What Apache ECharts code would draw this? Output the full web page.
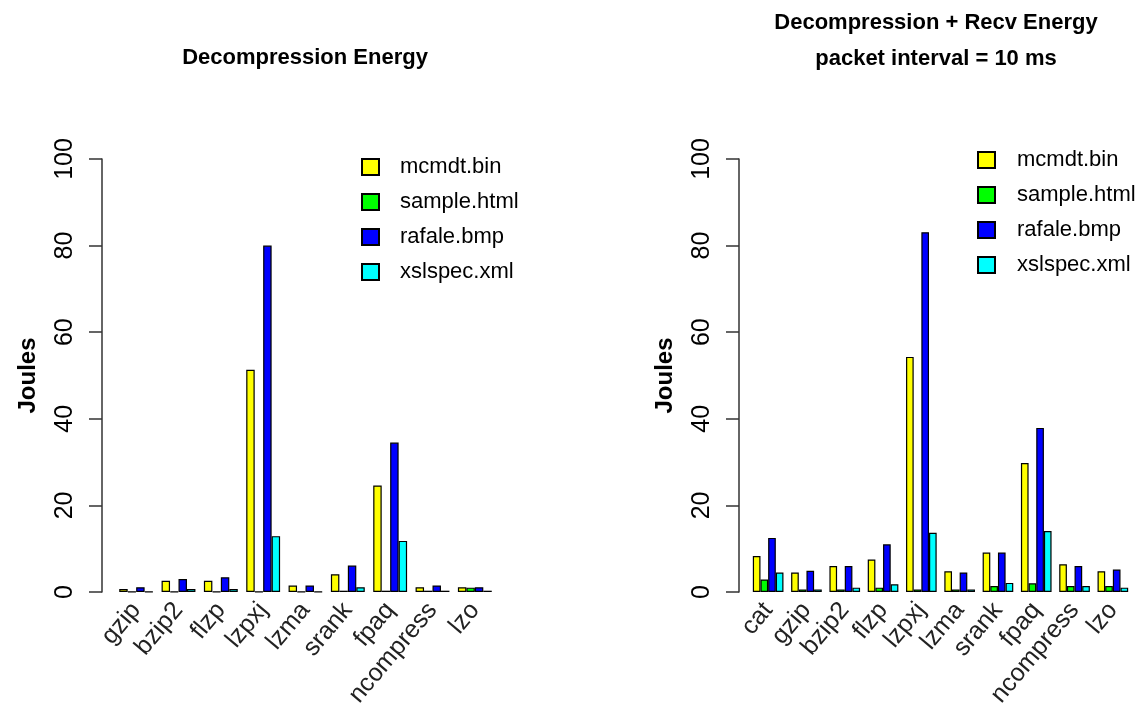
<!DOCTYPE html>
<html>
<head>
<meta charset="utf-8">
<script src="https://cdn.jsdelivr.net/npm/echarts@6/dist/echarts.min.js"></script>
<style>
  html, body { margin: 0; padding: 0; background: #fff; }
  #chart { width: 1145px; height: 717px; }
</style>
</head>
<body>
<div id="chart"></div>
<script>
// left panel: decompression only
const leftCats = ['gzip', 'bzip2', 'flzp', 'lzpxj', 'lzma', 'srank', 'fpaq', 'ncompress', 'lzo'];
const leftMcmdt = [0.7, 2.6, 2.6, 51.3, 1.5, 4.1, 24.6, 1.1, 1.1];
const leftSample = [0.1, 0.1, 0.1, 0.1, 0.1, 0.3, 0.3, 0.3, 1.0];
const leftRafale = [1.1, 3.0, 3.4, 80.0, 1.5, 6.1, 34.5, 1.5, 1.1];
const leftXslspec = [0.1, 0.7, 0.7, 12.9, 0.1, 1.1, 11.8, 0.3, 0.3];

// right panel: decompression + receive
const rightCats = ['cat', 'gzip', 'bzip2', 'flzp', 'lzpxj', 'lzma', 'srank', 'fpaq', 'ncompress', 'lzo'];
const rightMcmdt = [8.3, 4.5, 6.0, 7.5, 54.3, 4.8, 9.1, 29.8, 6.4, 4.8];
const rightSample = [2.9, 0.6, 0.6, 1.0, 0.6, 0.6, 1.4, 2.0, 1.4, 1.4];
const rightRafale = [12.5, 4.9, 6.0, 11.0, 83.1, 4.5, 9.1, 37.9, 6.0, 5.2];
const rightXslspec = [4.5, 0.6, 1.0, 1.8, 13.7, 0.6, 2.1, 14.1, 1.4, 1.0];

const fileNames = ['mcmdt.bin', 'sample.html', 'rafale.bmp', 'xslspec.xml'];
const yTicks = [0, 20, 40, 60, 80, 100];

const colors = ['#ffff00', '#00ff00', '#0000ff', '#00ffff'];
const font = '"Liberation Sans", Arial, Helvetica, sans-serif';

const chart = echarts.init(document.getElementById('chart'));

function yAxisFor(gridIndex, offset) {
  return {
    type: 'value',
    gridIndex: gridIndex,
    min: yTicks[0],
    max: yTicks[yTicks.length - 1],
    interval: 20,
    offset: offset,
    name: 'Joules',
    nameLocation: 'middle',
    nameRotate: 90,
    nameGap: 62,
    nameTextStyle: { fontFamily: font, fontSize: 24, fontWeight: 'bold', color: '#000' },
    axisLine: { show: true, lineStyle: { color: '#333', width: 1.5 } },
    axisTick: { show: true, length: 13, lineStyle: { color: '#333', width: 1.5 } },
    axisLabel: { rotate: 90, margin: 24, fontFamily: font, fontSize: 25, color: '#000' },
    splitLine: { show: false }
  };
}

function xAxisFor(gridIndex, cats) {
  return {
    type: 'category',
    gridIndex: gridIndex,
    data: cats,
    axisLine: { show: false },
    axisTick: { show: false },
    axisLabel: { interval: 0, rotate: 50, margin: 14, fontFamily: font, fontSize: 25, color: '#222' }
  };
}

function seriesFor(idx, lists) {
  return lists.map((vals, i) => ({
    name: fileNames[i],
    type: 'bar',
    xAxisIndex: idx,
    yAxisIndex: idx,
    data: vals,
    barGap: '0%',
    barCategoryGap: '20%',
    itemStyle: { color: colors[i], borderColor: '#000', borderWidth: 1.2 }
  }));
}

function legendFor(left, top, padLeft) {
  return {
    data: fileNames,
    orient: 'vertical',
    left: left,
    top: top,
    padding: 0,
    itemWidth: 17,
    itemHeight: 16,
    itemGap: 13,
    icon: 'rect',
    selectedMode: false,
    textStyle: { fontFamily: font, fontSize: 22, color: '#000', lineHeight: 22, padding: [0, 0, 0, padLeft] }
  };
}

const option = {
  animation: false,
  backgroundColor: '#fff',
  title: [
    {
      text: 'Decompression Energy',
      left: 305, top: 47, textAlign: 'center', padding: 0,
      textStyle: { fontFamily: font, fontSize: 22, fontWeight: 'bold', color: '#000' }
    },
    {
      text: 'Decompression + Recv Energy\npacket interval = 10 ms',
      left: 936, top: 5, textAlign: 'center', padding: 0,
      textStyle: { fontFamily: font, fontSize: 22, fontWeight: 'bold', color: '#000', lineHeight: 36 }
    }
  ],
  legend: [legendFor(361, 156, 16), legendFor(977, 149, 17)],
  grid: [
    { left: 115, right: 649, top: 159, bottom: 125, containLabel: false },
    { left: 749, right: 13, top: 159, bottom: 125, containLabel: false }
  ],
  xAxis: [xAxisFor(0, leftCats), xAxisFor(1, rightCats)],
  yAxis: [yAxisFor(0, 13), yAxisFor(1, 10)],
  series: seriesFor(0, [leftMcmdt, leftSample, leftRafale, leftXslspec])
    .concat(seriesFor(1, [rightMcmdt, rightSample, rightRafale, rightXslspec]))
};

chart.setOption(option);
</script>
</body>
</html>
